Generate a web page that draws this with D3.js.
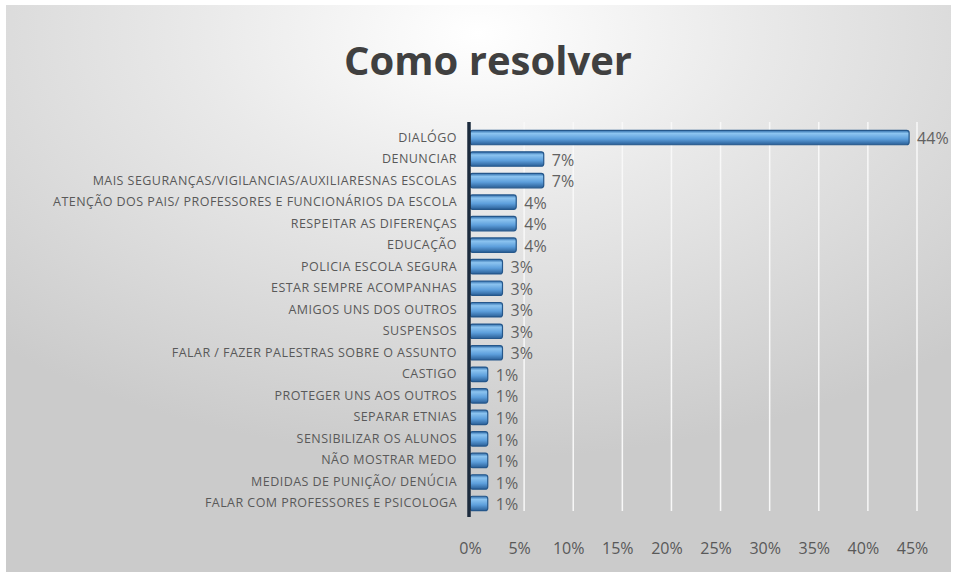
<!DOCTYPE html>
<html>
<head>
<meta charset="utf-8">
<script src="https://cdn.jsdelivr.net/npm/d3@7"></script>
<style>
  body { margin: 0; background: #fff; }
  svg { display: block; }
</style>
</head>
<body>
<div id="chart"></div>
<script>
// categories, top to bottom
var categories = [
  "DIALÓGO",
  "DENUNCIAR",
  "MAIS SEGURANÇAS/VIGILANCIAS/AUXILIARESNAS ESCOLAS",
  "ATENÇÃO DOS PAIS/ PROFESSORES E FUNCIONÁRIOS DA ESCOLA",
  "RESPEITAR AS DIFERENÇAS",
  "EDUCAÇÃO",
  "POLICIA ESCOLA SEGURA",
  "ESTAR SEMPRE ACOMPANHAS",
  "AMIGOS UNS DOS OUTROS",
  "SUSPENSOS",
  "FALAR / FAZER PALESTRAS SOBRE O ASSUNTO",
  "CASTIGO",
  "PROTEGER UNS AOS OUTROS",
  "SEPARAR ETNIAS",
  "SENSIBILIZAR OS ALUNOS",
  "NÃO MOSTRAR MEDO",
  "MEDIDAS DE PUNIÇÃO/ DENÚCIA",
  "FALAR COM PROFESSORES E PSICOLOGA"
];
// shares (labels show them rounded)
var values = [0.443, 0.071, 0.071, 0.043, 0.043, 0.043, 0.029, 0.029, 0.029,
              0.029, 0.029, 0.014, 0.014, 0.014, 0.014, 0.014, 0.014, 0.014];
var xTicks = [0, 0.05, 0.10, 0.15, 0.20, 0.25, 0.30, 0.35, 0.40, 0.45];

var W = 957, H = 577;
var margin = {top: 126, right: 45, bottom: 62, left: 470};
var width = W - margin.left - margin.right,
    height = H - margin.top - margin.bottom;

var svg = d3.select("#chart").append("svg")
    .attr("width", W)
    .attr("height", H);

var defs = svg.append("defs");
var bg = defs.append("radialGradient")
    .attr("id", "bg")
    .attr("cx", "50%").attr("cy", "5%").attr("r", "75%");
bg.append("stop").attr("offset", "0%").attr("stop-color", "#ffffff");
bg.append("stop").attr("offset", "40%").attr("stop-color", "#e9e9e9");
bg.append("stop").attr("offset", "100%").attr("stop-color", "#cbcbcb");

var barGrad = defs.append("linearGradient")
    .attr("id", "barGrad")
    .attr("x1", 0).attr("y1", 0).attr("x2", 0).attr("y2", 1);
barGrad.append("stop").attr("offset", "0%").attr("stop-color", "#2d6aa8");
barGrad.append("stop").attr("offset", "22%").attr("stop-color", "#8cc4f0");
barGrad.append("stop").attr("offset", "60%").attr("stop-color", "#5d9fdc");
barGrad.append("stop").attr("offset", "100%").attr("stop-color", "#2a5f97");

// chart background
svg.append("rect")
    .attr("x", 6).attr("y", 5)
    .attr("width", W - 12).attr("height", H - 10)
    .attr("fill", "url(#bg)");

svg.append("text")
    .attr("x", 488)
    .attr("y", 75)
    .attr("text-anchor", "middle")
    .style("font-family", "'Open Sans', 'DejaVu Sans', sans-serif")
    .style("font-weight", "bold")
    .style("font-size", "40px")
    .style("fill", "#404040")
    .text("Como resolver");

var g = svg.append("g")
    .attr("transform", "translate(" + margin.left + "," + margin.top + ")");

var x = d3.scaleLinear().domain([0, 0.45]).range([0, width]);
var y = d3.scaleBand().domain(categories).range([0, height]).paddingInner(0.33).paddingOuter(0.2);

// gridlines
g.append("g")
    .selectAll("line")
    .data(xTicks.slice(1))
    .enter().append("line")
    .attr("x1", function(d) { return x(d) + 5; })
    .attr("x2", function(d) { return x(d) + 5; })
    .attr("y1", -4)
    .attr("y2", height - 4)
    .style("stroke", "#f8f8f8")
    .style("stroke-width", 1.5);

// x axis, labels only
var xAxis = d3.axisBottom(x)
    .tickValues(xTicks)
    .tickFormat(d3.format(".0%"))
    .tickSize(0);
var xg = g.append("g")
    .attr("transform", "translate(0," + (height + 25) + ")")
    .call(xAxis);
xg.select(".domain").remove();
xg.selectAll("text")
    .style("font-family", "'Open Sans', sans-serif")
    .style("font-size", "16px")
    .style("fill", "#595959");

// y axis labels
var yAxis = d3.axisLeft(y).tickSize(0).tickPadding(13);
var yg = g.append("g").call(yAxis);
yg.select(".domain").remove();
yg.selectAll("text")
    .style("font-family", "'Open Sans', sans-serif")
    .style("font-size", "12.5px")
    .style("letter-spacing", "0.45px")
    .style("fill", "#595959");

// bars
var bars = g.append("g").selectAll("g.bar")
    .data(values)
    .enter().append("g").attr("class", "bar");

bars.append("rect")
    .attr("x", 0)
    .attr("y", function(d, i) { return y(categories[i]); })
    .attr("width", function(d) { return x(d) + 4; })
    .attr("height", y.bandwidth())
    .attr("rx", 2.5)
    .style("fill", "url(#barGrad)")
    .style("stroke", "#25578b")
    .style("stroke-width", 1.2);

// value labels
bars.append("text")
    .attr("x", function(d) { return x(d) + 12; })
    .attr("y", function(d, i) { return y(categories[i]) + y.bandwidth() / 2 + 1; })
    .attr("dy", "0.35em")
    .style("font-family", "'Open Sans', sans-serif")
    .style("font-size", "16px")
    .style("fill", "#626262")
    .text(function(d) { return d3.format(".0%")(d); });

// vertical axis wall
g.append("line")
    .attr("x1", -1).attr("x2", -1)
    .attr("y1", -4).attr("y2", height + 2)
    .style("stroke", "#1c2b3d")
    .style("stroke-width", 3.5);
</script>
</body>
</html>
